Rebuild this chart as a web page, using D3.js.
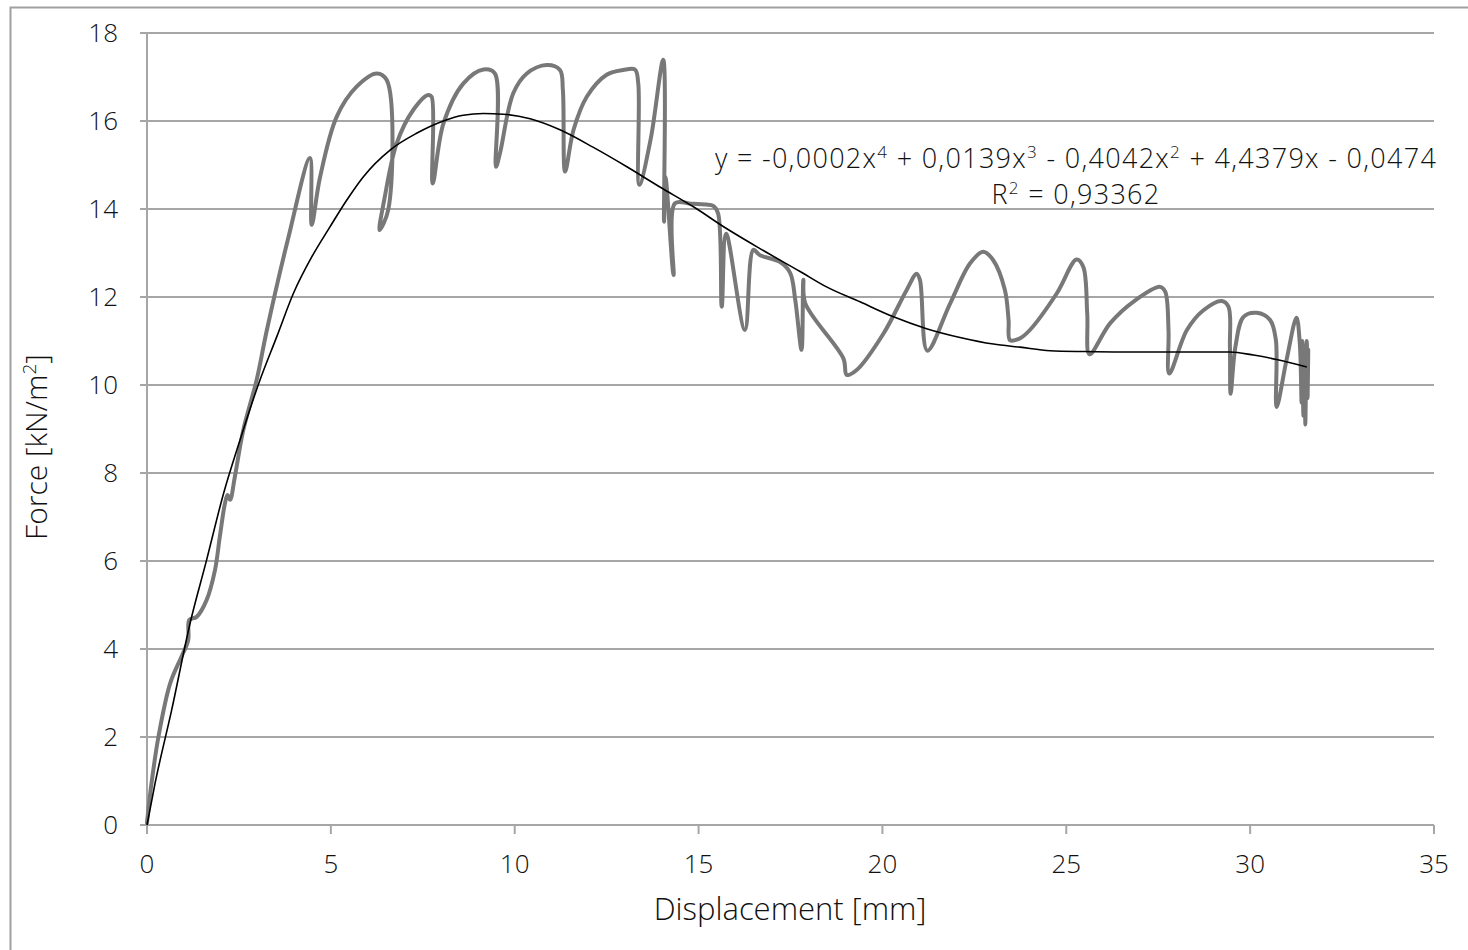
<!DOCTYPE html>
<html>
<head>
<meta charset="utf-8">
<script src="https://cdn.jsdelivr.net/npm/d3@7"></script>
<style>
  body { margin: 0; background: #fff; }
  text { font-family: "Open Sans", "Liberation Sans", sans-serif; font-weight: 300; fill: #111; }
</style>
</head>
<body>
<div id="chart"></div>
<script>
// measured displacement [mm] / force [kN/m2]
var dispX = [0, 0.1, 0.31, 0.63, 0.94, 1.12, 1.15, 1.35, 1.62, 1.85, 1.98, 2.12, 2.19, 2.26, 2.39, 2.62, 2.98, 3.26, 3.83, 4.43,
  4.48, 4.7, 5.16, 5.7, 6.25, 6.52, 6.56, 6.32, 6.45, 6.79, 7.24, 7.65, 7.74, 7.77, 8.06, 8.6, 9.15, 9.46, 9.49,
  9.6, 9.96, 10.33, 10.87, 11.23, 11.31, 11.37, 11.6, 11.96, 12.5, 12.95, 13.27, 13.36, 13.39, 13.7, 14.04,
  14.06, 14.1, 14.32, 14.36, 14.8, 15.2, 15.4, 15.53, 15.63, 15.75, 16.26, 16.49, 16.67, 17.21, 17.49, 17.63, 17.8,
  17.85, 17.9, 18.94, 19.03, 19.3, 20.03, 20.66, 20.93, 21.02, 21.22, 21.84, 22.38, 22.74, 23.01, 23.33, 23.43,
  23.47, 23.74, 24.01, 24.74, 25.28, 25.46, 25.57, 25.63, 26.19, 26.82, 27.55, 27.69, 27.78, 27.8, 28.28, 28.73,
  29.23, 29.41, 29.45, 29.47, 29.6, 29.82, 30.18, 30.54, 30.7, 30.72, 30.99, 31.26, 31.35, 31.4, 31.42, 31.45,
  31.5, 31.5, 31.54, 31.56, 31.58];
var forceY = [0.05, 0.8, 2.0, 3.22, 3.83, 4.2, 4.66, 4.73, 5.11, 5.8, 6.55, 7.31, 7.5, 7.39, 7.92, 8.98, 10.11, 11.25, 13.3, 15.16,
  13.64, 14.7, 16.1, 16.78, 17.08, 16.93, 13.98, 13.52, 14.2, 15.49, 16.25, 16.59, 16.55, 14.58, 15.94, 16.85, 17.17, 17.08, 14.96,
  15.27, 16.63, 17.08, 17.27, 17.16, 16.7, 14.85, 15.8, 16.55, 17.05, 17.16, 17.17, 16.85, 14.55, 15.6, 17.39,
  13.71, 14.73, 12.5, 14.13, 14.12, 14.1, 14.07, 13.9, 11.78, 13.44, 11.25, 13.07, 12.95, 12.8, 12.55, 11.93, 10.8,
  12.39, 11.86, 10.6, 10.23, 10.34, 11.17, 12.16, 12.53, 12.39, 10.78, 11.85, 12.76, 13.03, 12.84, 12.16, 11.48,
  11.02, 11.06, 11.25, 12.08, 12.85, 12.69, 11.62, 10.7, 11.4, 11.89, 12.23, 12.12, 11.25, 10.26, 11.25, 11.7,
  11.91, 11.78, 10.87, 9.8, 10.87, 11.55, 11.64, 11.48, 11.02, 9.5, 10.57, 11.53, 10.95, 9.6, 11.0, 9.3,
  10.9, 9.1, 11.0, 9.7, 10.8];

// polynomial trend line as drawn
var trendX = [0, 0.22, 0.67, 1.17, 1.62, 2.08, 2.53, 3.07, 3.53, 3.98, 4.48, 4.98, 5.43, 5.88, 6.61, 7.33, 8.06, 8.6, 9.15,
  9.69, 10.42, 11.23, 12.14, 13.05, 13.95, 14.86, 15.77, 16.67, 17.76, 18.48, 19.39, 20.3, 21.2, 22.11, 23.02, 23.74,
  24.56, 25.5, 26.5, 27.5, 28.5, 29.45, 30.09, 30.72, 31.54];
var trendY = [0, 0.95, 2.61, 4.58, 6.02, 7.53, 8.75, 10.11, 11.1, 12.08, 12.91, 13.6, 14.2, 14.73, 15.34, 15.72, 16.0, 16.13, 16.17,
  16.155, 16.05, 15.8, 15.4, 14.96, 14.5, 14.05, 13.55, 13.1, 12.58, 12.23, 11.89, 11.55, 11.28, 11.08, 10.93, 10.86,
  10.78, 10.76, 10.75, 10.75, 10.75, 10.75, 10.68, 10.58, 10.41];

var xTicks = [0, 5, 10, 15, 20, 25, 30, 35];
var yTicks = [0, 2, 4, 6, 8, 10, 12, 14, 16, 18];

var width = 1468, height = 950;
var plotLeft = 147, plotRight = 1434, plotTop = 33, plotBottom = 825;

var svg = d3.select("#chart").append("svg")
  .attr("width", width)
  .attr("height", height);

// outer frame
svg.append("rect")
  .attr("x", 10.5).attr("y", 7.5)
  .attr("width", 1470).attr("height", 960)
  .attr("fill", "none").attr("stroke", "#a0a0a0").attr("stroke-width", 2);

var x = d3.scaleLinear().domain([0, 35]).range([plotLeft, plotRight]);
var y = d3.scaleLinear().domain([0, 18]).range([plotBottom, plotTop]);

// horizontal grid + y ticks
svg.append("g").selectAll("line").data(yTicks).enter().append("line")
  .attr("x1", plotLeft - 7).attr("x2", plotRight)
  .attr("y1", function(d) { return y(d); })
  .attr("y2", function(d) { return y(d); })
  .attr("stroke", "#a6a6a6").attr("stroke-width", 2);

svg.append("g").selectAll("text").data(yTicks).enter().append("text")
  .attr("x", 118)
  .attr("y", function(d) { return y(d); })
  .attr("dy", "0.36em")
  .attr("text-anchor", "end")
  .style("font-size", "26px")
  .text(function(d) { return d; });

// left axis line
svg.append("line")
  .attr("x1", plotLeft).attr("x2", plotLeft).attr("y1", plotTop).attr("y2", plotBottom)
  .attr("stroke", "#a6a6a6").attr("stroke-width", 2);

// x ticks
svg.append("g").selectAll("line").data(xTicks).enter().append("line")
  .attr("x1", function(d) { return x(d); })
  .attr("x2", function(d) { return x(d); })
  .attr("y1", plotBottom).attr("y2", plotBottom + 9)
  .attr("stroke", "#a6a6a6").attr("stroke-width", 2);

svg.append("g").selectAll("text").data(xTicks).enter().append("text")
  .attr("x", function(d) { return x(d); })
  .attr("y", 864)
  .attr("dy", "0.36em")
  .attr("text-anchor", "middle")
  .style("font-size", "26px")
  .text(function(d) { return d; });

// axis titles
svg.append("text")
  .attr("x", 790).attr("y", 909)
  .attr("dy", "0.36em")
  .attr("text-anchor", "middle")
  .style("font-size", "31px")
  .text("Displacement [mm]");

var yt = svg.append("text")
  .attr("transform", "translate(36,447) rotate(-90)")
  .attr("dy", "0.36em")
  .attr("text-anchor", "middle")
  .style("font-size", "30px");
yt.append("tspan").text("Force [kN/m");
yt.append("tspan").attr("dy", "-11px").style("font-size", "19px").text("2");
yt.append("tspan").attr("dy", "11px").text("]");

var line = d3.line()
  .x(function(d) { return x(d[0]); })
  .y(function(d) { return y(d[1]); });

var measured = dispX.map(function(d, i) { return [d, forceY[i]]; });
var trend = trendX.map(function(d, i) { return [d, trendY[i]]; });

svg.append("path")
  .attr("d", line.curve(d3.curveCatmullRom.alpha(0.5))(measured))
  .attr("fill", "none")
  .attr("stroke", "#787878")
  .attr("stroke-width", 4)
  .attr("stroke-linejoin", "round")
  .attr("stroke-linecap", "round");

svg.append("path")
  .attr("d", line.curve(d3.curveMonotoneX)(trend))
  .attr("fill", "none")
  .attr("stroke", "#000")
  .attr("stroke-width", 1.6);

// trend equation
var eq = svg.append("text")
  .attr("x", 1076).attr("y", 158)
  .attr("dy", "0.36em")
  .attr("text-anchor", "middle")
  .style("font-size", "27px")
  .style("letter-spacing", "1.3px");
var parts = [["y = -0,0002x", "4"], [" + 0,0139x", "3"], [" - 0,4042x", "2"], [" + 4,4379x - 0,0474", null]];
var shift = 0;
parts.forEach(function(p) {
  eq.append("tspan").attr("dy", shift ? shift + "px" : null).text(p[0]);
  shift = 0;
  if (p[1]) {
    eq.append("tspan").attr("dy", "-10px").style("font-size", "17px").text(p[1]);
    shift = 10;
  }
});

var r2 = svg.append("text")
  .attr("x", 1076).attr("y", 194)
  .attr("dy", "0.36em")
  .attr("text-anchor", "middle")
  .style("font-size", "27px")
  .style("letter-spacing", "1.3px");
r2.append("tspan").text("R");
r2.append("tspan").attr("dy", "-10px").style("font-size", "17px").text("2");
r2.append("tspan").attr("dy", "10px").text(" = 0,93362");
</script>
</body>
</html>
